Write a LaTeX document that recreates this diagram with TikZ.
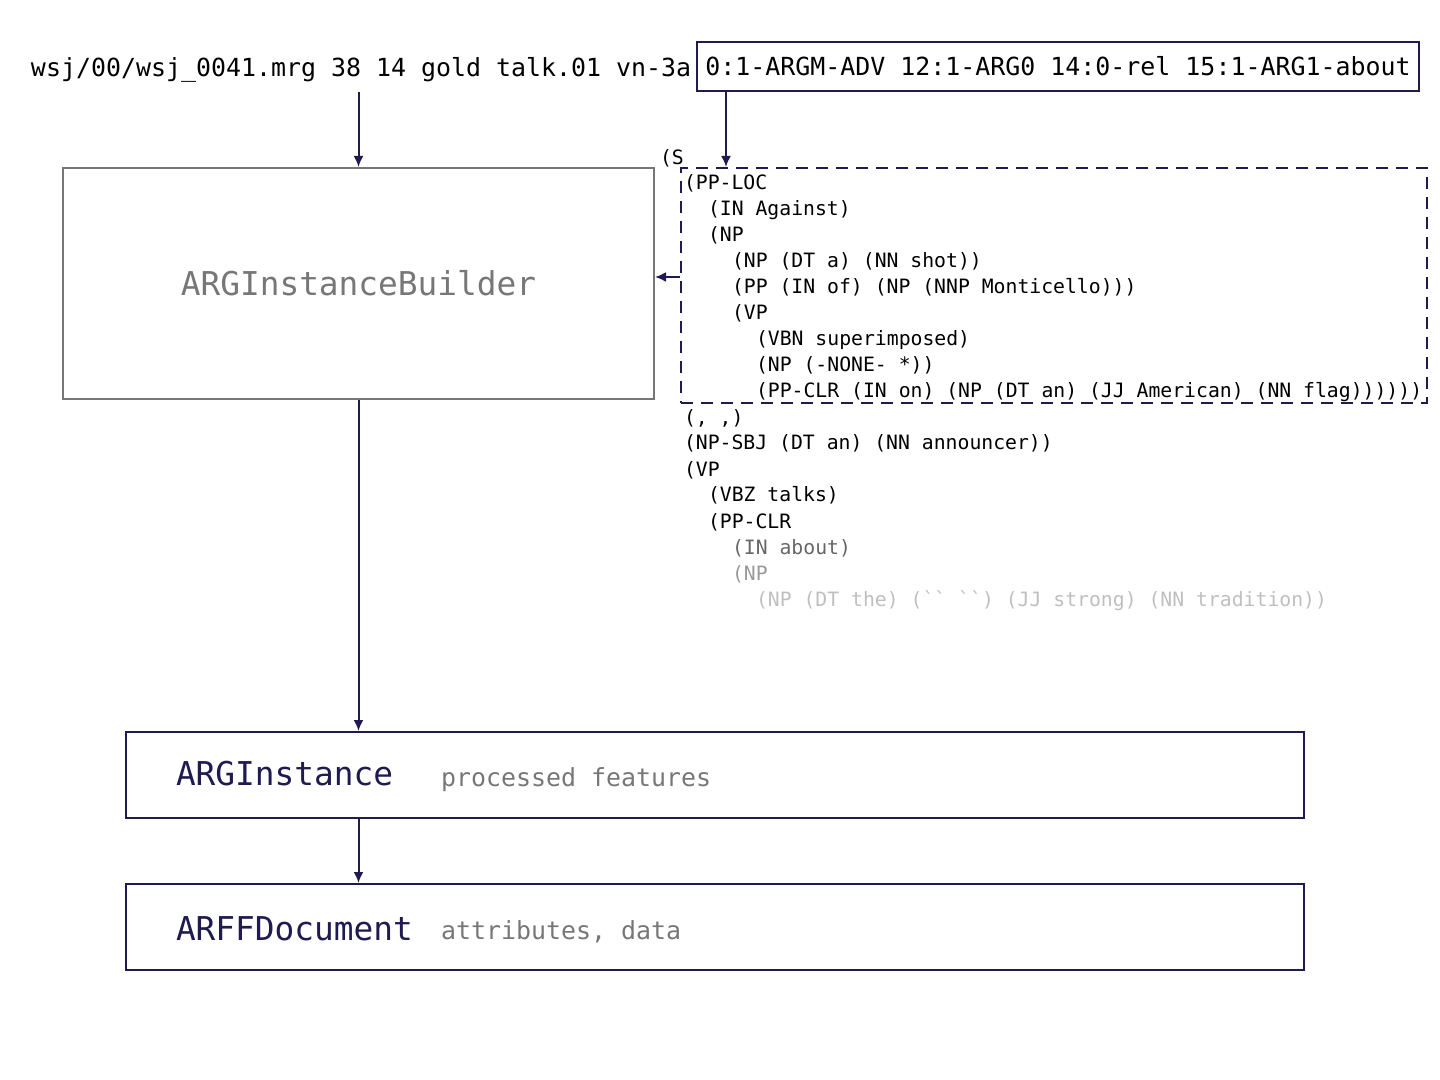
\documentclass[tikz,border=0pt]{standalone}
\usepackage{fontspec}
\setmonofont{DejaVu Sans Mono}
\usepackage{xcolor}
\usetikzlibrary{arrows.meta, positioning}
\definecolor{navy}{HTML}{1F1A4F}
\definecolor{boxgray}{HTML}{777777}

\tikzset{
	code/.style={inner sep=0pt, anchor=base west, font=\ttfamily\fontsize{12.46}{14}\selectfont},
	tree/.style={inner sep=0pt, anchor=base west, font=\ttfamily\fontsize{9.88}{13}\selectfont},
	classname/.style={inner sep=0pt, anchor=base west, font=\ttfamily\fontsize{16.4}{20}\selectfont},
	stage/.style={draw=navy, minimum width=589pt, minimum height=43pt}
}

\begin{document}
\begin{tikzpicture}[->,
		>={Latex[length=5.5pt, width=5pt]},
		x=0.5pt, y=-0.5pt,
		line width=1pt]
		\useasboundingbox (0,0) rectangle (1440,1080);
		
		\node[code] (src) at (30,77) {wsj/00/wsj\_0041.mrg 38 14 gold talk.01 vn-3a};
		\node[draw=navy, inner sep=0pt, minimum width=361pt, minimum height=24.5pt, font=\ttfamily\fontsize{12.46}{14}\selectfont] (args) at (1058,66.5) {0:1-ARGM-ADV 12:1-ARG0 14:0-rel 15:1-ARG1-about};
		
		\node[draw=boxgray, text=boxgray, minimum width=295.5pt, minimum height=115.5pt, font=\ttfamily\fontsize{16.4}{20}\selectfont] (builder) at (358.5,283.5) {ARGInstanceBuilder};
		\node[draw=navy, dash pattern=on 6pt off 4pt, minimum width=373pt, minimum height=117.5pt] (span) at (1054,285.5) {};
		
		% parse tree
		\node[tree] (t0) at (659,165) {(S};
		\node[tree] (t1) at (683,190) {(PP-LOC};
		\node[tree] (t2) at (707,216) {(IN Against)};
		\node[tree] (t3) at (707,242) {(NP};
		\node[tree] (t4) at (731,268) {(NP (DT a) (NN shot))};
		\node[tree] (t5) at (731,294) {(PP (IN of) (NP (NNP Monticello)))};
		\node[tree] (t6) at (731,320) {(VP};
		\node[tree] (t7) at (755,346) {(VBN superimposed)};
		\node[tree] (t8) at (755,372) {(NP (-NONE- *))};
		\node[tree] (t9) at (755,398) {(PP-CLR (IN on) (NP (DT an) (JJ American) (NN flag))))))};
		\node[tree] (t10) at (683,424) {(, ,)};
		\node[tree] (t11) at (683,450) {(NP-SBJ (DT an) (NN announcer))};
		\node[tree] (t12) at (683,476) {(VP};
		\node[tree] (t13) at (707,502) {(VBZ talks)};
		\node[tree] (t14) at (707,528) {(PP-CLR};
		\node[tree, text=black!60] (t15) at (731,554) {(IN about)};
		\node[tree, text=black!40] (t16) at (731,580) {(NP};
		\node[tree, text=black!25] (t17) at (755,606) {(NP (DT the) (`` ``) (JJ strong) (NN tradition))};
		
		\node[stage] (inst) at (715,775) {};
		\node[classname, text=navy] (instname) at (175,785) {ARGInstance};
		\node[code, text=boxgray] (instnote) at (440,786) {processed features};
		\node[stage] (doc) at (715,927) {};
		\node[classname, text=navy] (docname) at (175,940) {ARFFDocument};
		\node[code, text=boxgray] (docnote) at (440,939) {attributes, data};
		
		\coordinate (treein) at ([yshift=4.25pt]span.west);
		\draw[navy] (builder.north |- args.south) -- (builder.north);
		\draw[navy] ([xshift=15pt]args.south west) -- ([xshift=23pt]span.north west);
		\draw[navy] (treein) -- (treein -| builder.east);
		\draw[navy] (builder.south) -- (builder.south |- inst.north);
		\draw[navy] (builder.south |- inst.south) -- (builder.south |- doc.north);
	\end{tikzpicture}
\end{document}
